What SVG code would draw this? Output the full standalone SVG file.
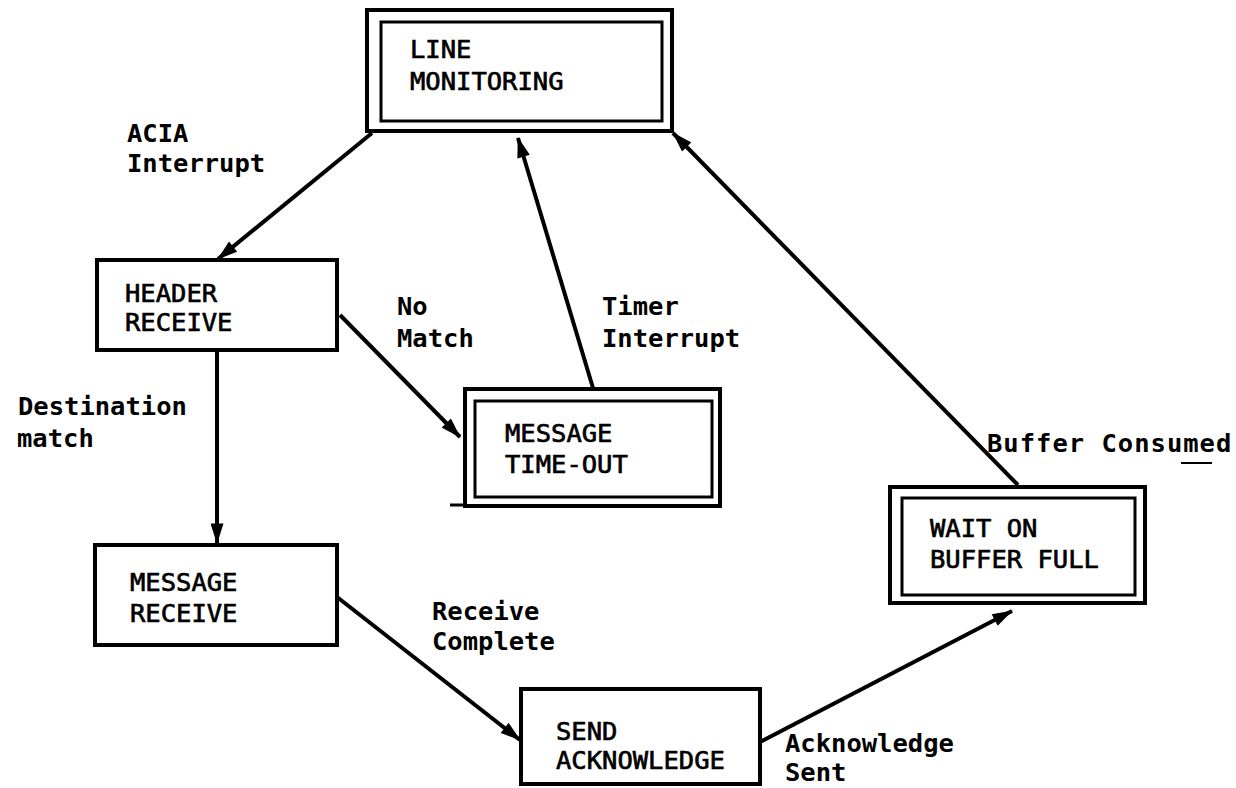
<svg xmlns="http://www.w3.org/2000/svg" width="1236" height="788" viewBox="0 0 1236 788">
<defs>
<marker id="ah" viewBox="0 0 22 14" markerWidth="22" markerHeight="13" refX="21" refY="7" orient="auto" markerUnits="userSpaceOnUse">
<path d="M0,0 L22,7 L0,14 z" fill="#000"/>
</marker>
<style>
.box{fill:none;stroke:#000;stroke-width:4}
.inner{fill:none;stroke:#000;stroke-width:3}
.edge{fill:none;stroke:#000;stroke-width:4;marker-end:url(#ah)}
.nt{font-family:"DejaVu Sans Mono","Liberation Mono",monospace;font-size:25.5px;fill:#000;stroke:#000;stroke-width:0.7}
.lb{font-family:"DejaVu Sans Mono","Liberation Mono",monospace;font-size:25.5px;font-weight:bold;fill:#000}
</style>
</defs>
<rect width="1236" height="788" fill="#fff"/>
<g id="connectors">
<line class="edge" x1="372" y1="133" x2="218" y2="259"/>
<line class="edge" x1="340" y1="315" x2="460" y2="437"/>
<line class="edge" x1="593" y1="388" x2="518" y2="138"/>
<line class="edge" x1="217" y1="350" x2="217" y2="543"/>
<line class="edge" x1="337" y1="597" x2="520" y2="740"/>
<line class="edge" x1="760" y1="742" x2="1012" y2="611"/>
<line class="edge" x1="1018" y1="485" x2="673" y2="133"/>
<line x1="1181" y1="463" x2="1212" y2="463" stroke="#000" stroke-width="2"/>
</g>
<g id="line-monitoring">
<rect class="box" x="367" y="10" width="305" height="121"/>
<rect class="inner" x="381" y="22" width="281" height="99"/>
<text class="nt" x="410" y="58">LINE</text>
<text class="nt" x="410" y="90">MONITORING</text>
</g>
<g id="header-receive">
<rect class="box" x="97" y="260" width="240" height="90"/>
<text class="nt" x="125" y="302">HEADER</text>
<text class="nt" x="125" y="331">RECEIVE</text>
</g>
<g id="message-timeout">
<rect class="box" x="465" y="389" width="255" height="117"/>
<rect class="inner" x="475" y="401" width="237" height="96"/>
<line x1="450" y1="505" x2="465" y2="505" stroke="#000" stroke-width="3"/>
<text class="nt" x="505" y="442">MESSAGE</text>
<text class="nt" x="505" y="473">TIME-OUT</text>
</g>
<g id="message-receive">
<rect class="box" x="95" y="545" width="242" height="100"/>
<text class="nt" x="130" y="591">MESSAGE</text>
<text class="nt" x="130" y="622">RECEIVE</text>
</g>
<g id="send-acknowledge">
<rect class="box" x="521" y="689" width="239" height="95"/>
<text class="nt" x="556" y="740">SEND</text>
<text class="nt" x="556" y="769">ACKNOWLEDGE</text>
</g>
<g id="wait-buffer-full">
<rect class="box" x="890" y="487" width="255" height="116"/>
<rect class="inner" x="902" y="498" width="233" height="97"/>
<text class="nt" x="930" y="537">WAIT ON</text>
<text class="nt" x="930" y="568">BUFFER FULL</text>
</g>
<g id="labels">
<text class="lb" x="127" y="142">ACIA</text>
<text class="lb" x="127" y="172">Interrupt</text>
<text class="lb" x="397" y="315">No</text>
<text class="lb" x="397" y="347">Match</text>
<text class="lb" x="602" y="315">Timer</text>
<text class="lb" x="602" y="347">Interrupt</text>
<text class="lb" x="18" y="415">Destination</text>
<text class="lb" x="17" y="447">match</text>
<text class="lb" x="987" y="452" letter-spacing="1">Buffer Consumed</text>
<text class="lb" x="432" y="620">Receive</text>
<text class="lb" x="432" y="650">Complete</text>
<text class="lb" x="785" y="752">Acknowledge</text>
<text class="lb" x="785" y="781">Sent</text>
</g>
</svg>
